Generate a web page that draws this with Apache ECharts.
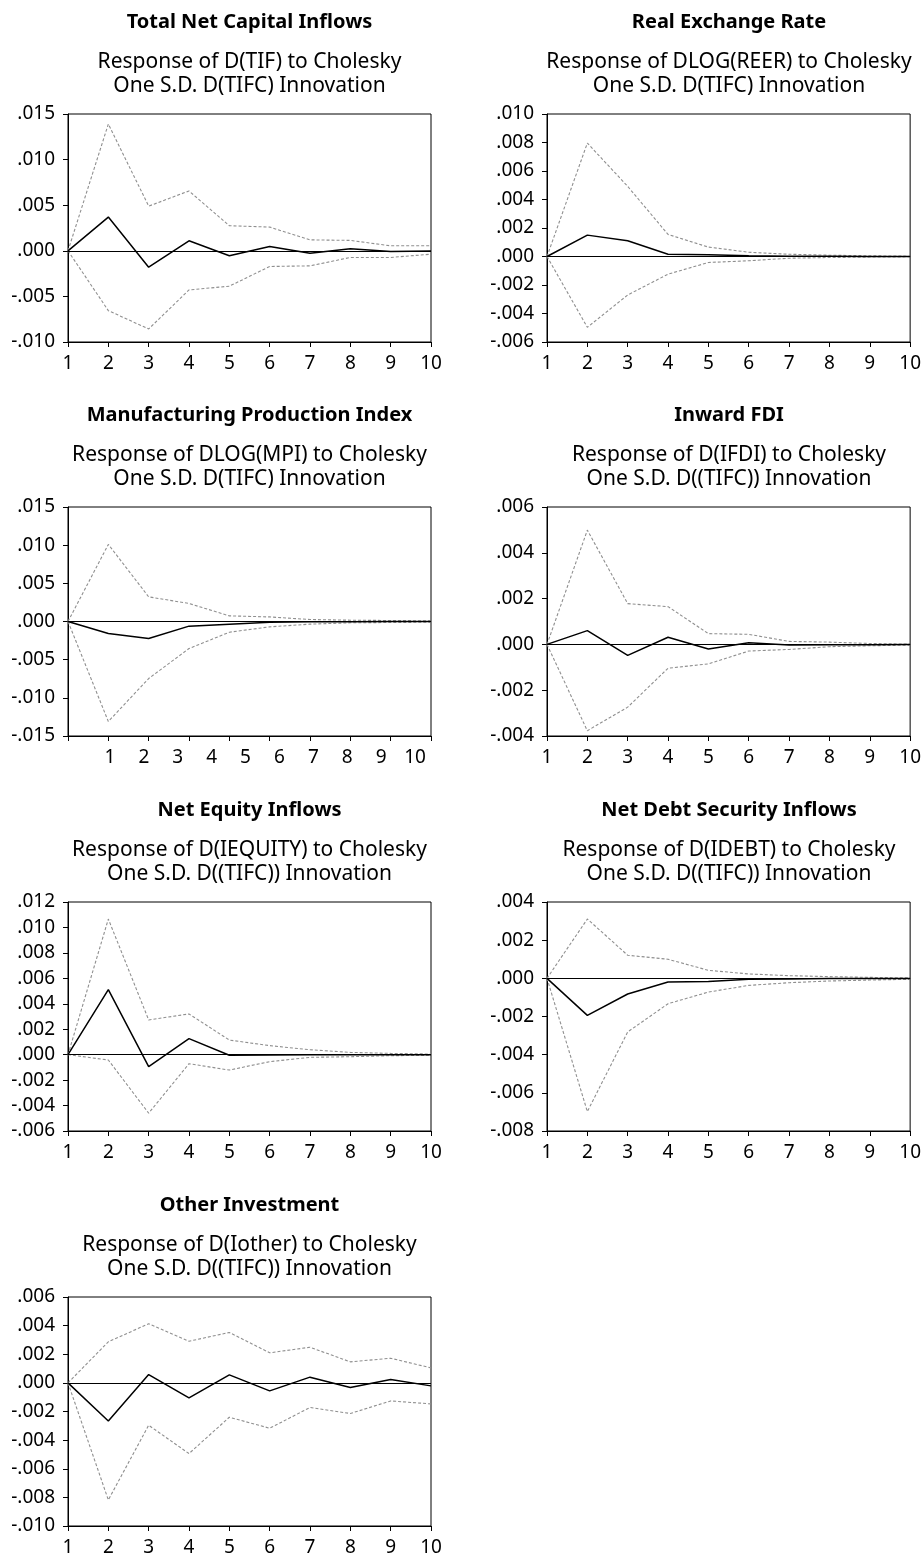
<!DOCTYPE html>
<html>
<head>
<meta charset="utf-8">
<script src="https://cdn.jsdelivr.net/npm/echarts@6/dist/echarts.min.js"></script>
<style>
html,body{margin:0;padding:0;background:#fff;}
#chart{width:924px;height:1558px;}
</style>
</head>
<body>
<div id="chart"></div>
<script>
// ---------- DATA ----------
const periods10 = ['1','2','3','4','5','6','7','8','9','10'];

// Total Net Capital Inflows
const tifResp  = [0, 0.0037, -0.0018, 0.0011, -0.00055, 0.00048, -0.00026, 0.00022, -0.00007, -0.00002];
const tifUpper = [0, 0.0139, 0.0049, 0.00656, 0.00275, 0.0026, 0.0012, 0.00114, 0.00055, 0.00055];
const tifLower = [0, -0.00656, -0.00857, -0.00429, -0.00388, -0.00172, -0.00165, -0.00073, -0.00073, -0.00037];

// Real Exchange Rate
const reerResp  = [0, 0.0015, 0.0011, 0.00016, 0.00012, 0.00005, 0.00002, 0.00001, 0, 0];
const reerUpper = [0, 0.00796, 0.00492, 0.00155, 0.00066, 0.0003, 0.00016, 0.00009, 0.00005, 0.00002];
const reerLower = [0, -0.00497, -0.0027, -0.00124, -0.00042, -0.0003, -0.00012, -0.00007, -0.00004, -0.00002];

// Manufacturing Production Index
const mpiResp  = [0, -0.00157, -0.00223, -0.00061, -0.00035, -0.0001, -0.00004, -0.00002, -0.00001, 0];
const mpiUpper = [0, 0.0101, 0.00323, 0.00236, 0.00074, 0.0006, 0.00026, 0.00017, 0.00013, 0.00009];
const mpiLower = [0, -0.0131, -0.00747, -0.00354, -0.0014, -0.0007, -0.00035, -0.00017, -0.00013, -0.00009];

// Inward FDI
const ifdiResp  = [0, 0.0006, -0.00048, 0.00031, -0.0002, 0.00007, -0.00003, -0.00001, -0.00001, 0];
const ifdiUpper = [0, 0.00499, 0.00178, 0.00165, 0.00047, 0.00044, 0.00013, 0.0001, 0.00004, 0.00001];
const ifdiLower = [0, -0.00377, -0.00274, -0.00104, -0.00085, -0.00029, -0.00022, -0.0001, -0.00006, -0.00003];

// Net Equity Inflows
const iequityResp  = [0, 0.00512, -0.00094, 0.00126, -0.00005, -0.00003, -0.00001, -0.00001, -0.00001, -0.00001];
const iequityUpper = [0, 0.01066, 0.00273, 0.0032, 0.00115, 0.00071, 0.00039, 0.00018, 0.0001, 0.00005];
const iequityLower = [0, -0.00042, -0.0046, -0.00071, -0.00121, -0.00055, -0.00021, -0.00016, -0.00008, -0.00005];

// Net Debt Security Inflows
const idebtResp  = [0, -0.00194, -0.00082, -0.00019, -0.00016, -0.00005, -0.00003, -0.00001, -0.00001, -0.00001];
const idebtUpper = [0, 0.00311, 0.00121, 0.001, 0.00042, 0.00023, 0.00014, 0.00009, 0.00005, 0.00002];
const idebtLower = [0, -0.00698, -0.00281, -0.00133, -0.00072, -0.00037, -0.00023, -0.00014, -0.00009, -0.00005];

// Other Investment
const iotherResp  = [0, -0.00266, 0.00058, -0.00105, 0.00056, -0.00056, 0.0004, -0.00033, 0.00023, -0.00021];
const iotherUpper = [0, 0.00287, 0.00413, 0.00291, 0.00352, 0.0021, 0.00249, 0.00147, 0.00172, 0.00105];
const iotherLower = [0, -0.00818, -0.00296, -0.00494, -0.0024, -0.00317, -0.00172, -0.00214, -0.00126, -0.00147];

const titles = ['Total Net Capital Inflows','Real Exchange Rate','Manufacturing Production Index','Inward FDI','Net Equity Inflows','Net Debt Security Inflows','Other Investment'];
const subtitles = [
  ['Response of D(TIF) to Cholesky','One S.D. D(TIFC) Innovation'],
  ['Response of DLOG(REER) to Cholesky','One S.D. D(TIFC) Innovation'],
  ['Response of DLOG(MPI) to Cholesky','One S.D. D(TIFC) Innovation'],
  ['Response of D(IFDI) to Cholesky','One S.D. D((TIFC)) Innovation'],
  ['Response of D(IEQUITY) to Cholesky','One S.D. D((TIFC)) Innovation'],
  ['Response of D(IDEBT) to Cholesky','One S.D. D((TIFC)) Innovation'],
  ['Response of D(Iother) to Cholesky','One S.D. D((TIFC)) Innovation']
];
const yMins = [-0.010, -0.006, -0.015, -0.004, -0.006, -0.008, -0.010];
const yMaxs = [0.015, 0.010, 0.015, 0.006, 0.012, 0.004, 0.006];
const yIntervals = [0.005, 0.002, 0.005, 0.002, 0.002, 0.002, 0.002];

const panelData = [
  {resp: tifResp, up: tifUpper, lo: tifLower},
  {resp: reerResp, up: reerUpper, lo: reerLower},
  {resp: mpiResp, up: mpiUpper, lo: mpiLower},
  {resp: ifdiResp, up: ifdiUpper, lo: ifdiLower},
  {resp: iequityResp, up: iequityUpper, lo: iequityLower},
  {resp: idebtResp, up: idebtUpper, lo: idebtLower},
  {resp: iotherResp, up: iotherUpper, lo: iotherLower}
];

// ---------- LAYOUT ----------
const FONT = '"Noto Sans", "Open Sans", sans-serif';
const TICKFS = 19;
const layout = [
  {left: 68, top: 114, width: 363, height: 228},
  {left: 547, top: 114, width: 364, height: 228},
  {left: 68, top: 507, width: 363, height: 229},
  {left: 547, top: 507, width: 364, height: 229},
  {left: 68, top: 902, width: 363, height: 229},
  {left: 547, top: 902, width: 364, height: 229},
  {left: 68, top: 1297, width: 363, height: 229}
];
// panel 3 has its period labels shifted relative to its ticks
const shiftedLabelPanel = 2;
const shiftedLabelBox = {left: 110, width: 305};

function fmt(v) {
  const r = Math.round(v * 1000) / 1000;
  let s = r.toFixed(3);
  if (s === '-0.000') s = '0.000';
  return s.replace(/^(-?)0\./, '$1.');
}

const grids = [], xAxes = [], yAxes = [], series = [], graphics = [];
layout.forEach((g, i) => {
  const shifted = (i === shiftedLabelPanel);
  grids.push({left: g.left, top: g.top, width: g.width, height: g.height,
    show: true, borderColor: '#000', borderWidth: 1, backgroundColor: 'transparent', containLabel: false});
  xAxes.push({type: 'category', gridIndex: i, data: periods10, boundaryGap: false,
    axisLine: {onZero: false, lineStyle: {color: '#000', width: 1}},
    axisTick: {show: true, inside: false, length: 5, lineStyle: {color: '#000'}, interval: 0},
    axisLabel: {show: !shifted, color: '#000', fontFamily: FONT, fontSize: TICKFS, margin: 12, interval: 0},
    splitLine: {show: false}});
  yAxes.push({type: 'value', gridIndex: i, min: yMins[i], max: yMaxs[i], interval: yIntervals[i],
    axisLine: {show: true, onZero: false, lineStyle: {color: '#000', width: 1}},
    axisTick: {show: true, inside: false, length: 5, lineStyle: {color: '#000'}},
    axisLabel: {color: '#000', fontFamily: FONT, fontSize: TICKFS, margin: 13, formatter: fmt},
    splitLine: {show: false}});
  const band = {type: 'line', xAxisIndex: i, yAxisIndex: i, symbol: 'none', silent: true,
    lineStyle: {color: '#8f8f8f', width: 1.1, type: [3, 2]}, z: 2};
  series.push(Object.assign({}, band, {data: panelData[i].up}));
  series.push(Object.assign({}, band, {data: panelData[i].lo}));
  series.push({type: 'line', xAxisIndex: i, yAxisIndex: i, symbol: 'none', silent: true,
    data: panelData[i].resp, lineStyle: {color: '#000', width: 1.5}, z: 3,
    markLine: {silent: true, symbol: 'none', label: {show: false},
      lineStyle: {color: '#000', width: 1, type: 'solid'}, data: [{yAxis: 0}]}});
  const cx = g.left + g.width / 2;
  graphics.push({type: 'text', x: cx, y: g.top - 92, style: {text: titles[i], fill: '#000',
    font: 'bold 20px ' + FONT, textAlign: 'center', textVerticalAlign: 'middle'}});
  graphics.push({type: 'text', x: cx, y: g.top - 52, style: {text: subtitles[i][0], fill: '#000',
    font: '21px ' + FONT, textAlign: 'center', textVerticalAlign: 'middle'}});
  graphics.push({type: 'text', x: cx, y: g.top - 28, style: {text: subtitles[i][1], fill: '#000',
    font: '21px ' + FONT, textAlign: 'center', textVerticalAlign: 'middle'}});
});

// label-only axis for panel 3 (labels not aligned with its ticks in the original)
{
  const g = layout[shiftedLabelPanel];
  const idx = grids.length;
  grids.push({left: shiftedLabelBox.left, top: g.top, width: shiftedLabelBox.width, height: g.height, show: false});
  xAxes.push({type: 'category', gridIndex: idx, data: periods10, boundaryGap: false,
    axisLine: {show: false, onZero: false}, axisTick: {show: false},
    axisLabel: {color: '#000', fontFamily: FONT, fontSize: TICKFS, margin: 12, interval: 0},
    splitLine: {show: false}});
  yAxes.push({type: 'value', gridIndex: idx, min: 0, max: 1, show: false});
}

const chart = echarts.init(document.getElementById('chart'), null, {renderer: 'canvas'});
chart.setOption({
  animation: false,
  backgroundColor: '#fff',
  grid: grids, xAxis: xAxes, yAxis: yAxes, series: series, graphic: graphics
});
</script>
</body>
</html>
